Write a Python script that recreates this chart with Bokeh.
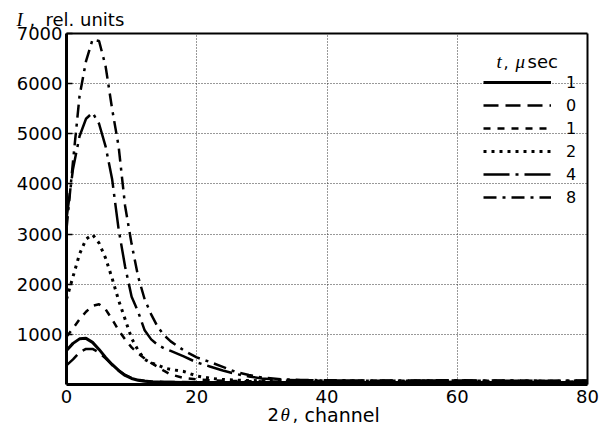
from bokeh.plotting import figure
from bokeh.models import Range1d, FixedTicker, Legend, LegendItem, Label, LinearAxis
from bokeh.embed import file_html
from bokeh.resources import INLINE

channel = [0, 1, 2, 3, 4, 5, 6, 7, 8, 9, 10, 11, 12, 13, 14, 15, 16, 18, 20, 22,
           24, 26, 28, 30, 33, 36, 40, 45, 50, 55, 60, 65, 70, 75, 80]

# series (legend order): t = 1 (solid), 0, 1, 2, 4, 8 microseconds
I_solid1 = [680, 820, 910, 920, 840, 700, 540, 400, 280, 180, 120, 85, 65, 55, 50, 45, 45, 42, 40, 40,
            38, 40, 38, 40, 38, 40, 45, 40, 40, 42, 45, 40, 40, 38, 40]
I_t0 = [380, 500, 640, 710, 710, 640, 520, 390, 280, 190, 130, 95, 75, 62, 55, 52, 50, 48, 45, 45,
        42, 45, 42, 45, 42, 45, 50, 45, 45, 48, 50, 45, 45, 42, 45]
I_t1 = [950, 1120, 1300, 1450, 1570, 1600, 1500, 1300, 1080, 900, 740, 620, 520, 430, 350, 270, 200, 130, 100, 85,
        75, 70, 65, 62, 58, 60, 65, 58, 60, 62, 65, 58, 60, 55, 60]
I_t2 = [1700, 2150, 2600, 2900, 2990, 2820, 2520, 2120, 1680, 1300, 920, 680, 500, 430, 390, 330, 300, 260, 170, 125,
        100, 88, 80, 75, 70, 70, 72, 68, 70, 70, 75, 68, 70, 65, 70]
I_t4 = [3300, 4300, 4950, 5300, 5420, 5200, 4750, 4100, 3100, 2350, 1750, 1450, 1080, 900, 790, 720, 670, 560, 440, 360,
        280, 210, 160, 120, 95, 85, 80, 78, 75, 78, 80, 75, 75, 72, 75]
I_t8 = [3100, 4450, 5750, 6450, 6880, 6850, 6350, 5500, 4750, 3560, 2800, 2150, 1700, 1400, 1150, 980, 860, 680, 540, 450,
        350, 250, 190, 140, 105, 90, 85, 80, 80, 82, 85, 80, 78, 75, 80]

legend_labels = ["1", "0", "1", "2", "4", "8"]
x_ticks = [0, 20, 40, 60, 80]
y_ticks = [1000, 2000, 3000, 4000, 5000, 6000, 7000]
X_MIN, X_MAX = 0, 80
Y_MIN, Y_MAX = 0, 7000

SANS = "DejaVu Sans"
SERIF = "Liberation Serif"

W, H = 605, 427
# plot box in pixels: left 66, right 587, top 33, bottom 384
L, R, T, B = 66, 587, 33, 384
sx = (R - L) / (X_MAX - X_MIN)
sy = (B - T) / (Y_MAX - Y_MIN)

p = figure(width=W, height=H, output_backend="svg", toolbar_location=None,
           x_range=Range1d(X_MIN - L / sx, X_MAX + (W - R) / sx),
           y_range=Range1d(Y_MIN - (H - B) / sy, Y_MAX + T / sy),
           min_border=0, x_axis_location="below", y_axis_location="left")
p.background_fill_color = "white"
p.border_fill_color = "white"
p.outline_line_color = None

for ax, ticks in ((p.xaxis, x_ticks), (p.yaxis, y_ticks)):
    ax.ticker = FixedTicker(ticks=ticks)
    ax.axis_line_width = 3
    ax.axis_line_color = "black"
    ax.major_tick_in = 6
    ax.major_tick_out = 0
    ax.major_tick_line_width = 1.5
    ax.minor_tick_line_color = None
    ax.major_label_text_font = SANS
    ax.major_label_text_font_size = "18px"
    ax.major_label_text_color = "black"
p.xaxis.fixed_location = Y_MIN
p.yaxis.fixed_location = X_MIN
p.xaxis.bounds = (X_MIN, X_MAX)
p.yaxis.bounds = (Y_MIN, Y_MAX)
p.xaxis.major_tick_line_color = None
p.yaxis.major_label_standoff = 4
p.xaxis.major_label_standoff = 5

# top and right frame lines as bare axes (no ticks, no labels)
top_ax = LinearAxis(fixed_location=Y_MAX, bounds=(X_MIN, X_MAX), ticker=FixedTicker(ticks=[]),
                    major_tick_line_color=None, minor_tick_line_color=None,
                    axis_line_width=2, axis_line_color="black")
right_ax = LinearAxis(fixed_location=X_MAX, bounds=(Y_MIN, Y_MAX), ticker=FixedTicker(ticks=[]),
                      major_tick_line_color=None, minor_tick_line_color=None,
                      axis_line_width=2, axis_line_color="black")
p.add_layout(top_ax, "above")
p.add_layout(right_ax, "right")

p.xgrid.ticker = FixedTicker(ticks=x_ticks)
p.ygrid.ticker = FixedTicker(ticks=y_ticks)
p.xgrid.bounds = (X_MIN, X_MAX)
p.ygrid.bounds = (Y_MIN, Y_MAX)
p.xgrid.cross_bounds = (Y_MIN, Y_MAX)
p.ygrid.cross_bounds = (X_MIN, X_MAX)
for g in (p.xgrid, p.ygrid):
    g.grid_line_color = "#333333"
    g.grid_line_dash = "1 2"
    g.grid_line_width = 1

styles = [
    (I_solid1, "solid", 3),
    (I_t0, "15 7", 2.5),
    (I_t1, "7 7", 2.5),
    (I_t2, "3 5", 3),
    (I_t4, "26 6 3 6", 2.5),
    (I_t8, "13 6 3 6", 2.5),
]
renderers = []
for ys, dash, w in styles:
    r = p.line(channel, ys, line_color="black", line_width=w, line_dash=dash)
    renderers.append(r)

items = [LegendItem(label=lab, renderers=[r]) for lab, r in zip(legend_labels, renderers)]
legend = Legend(items=items, location=(483, H - 207), orientation="vertical",
                glyph_width=68, glyph_height=20, label_height=20, spacing=3,
                label_standoff=15, padding=0, margin=0,
                border_line_color=None, background_fill_alpha=0,
                label_text_font=SANS, label_text_font_size="16px", label_text_color="black")
p.add_layout(legend, "center")


def dx(px):
    return X_MIN + (px - L) / sx


def dy(py):
    return Y_MIN + (B - py) / sy


def lab(px, py, text, font=SANS, style="normal", size="18px"):
    p.add_layout(Label(x=dx(px), y=dy(py), text=text, text_font=font,
                       text_font_style=style, text_font_size=size, text_color="black",
                       text_baseline="alphabetic", text_align="left"))


# y axis title: "I, rel. units"
lab(16, 19, "I", SERIF, "italic", "19px")
lab(29, 19, ",", SANS, "normal", "18px")
lab(45, 19, "rel. units", SANS, "normal", "18px")
# x axis title: "2θ, channel"
lab(267, 414, "2", SANS, "normal", "18px")
lab(280, 414, "θ", SERIF, "italic", "19px")
lab(292, 414, ",", SANS, "normal", "18px")
lab(304, 414, "channel", SANS, "normal", "19px")
# legend title: "t, μsec"
lab(496, 61, "t", SERIF, "italic", "19px")
lab(503, 61, ",", SANS, "normal", "16px")
lab(515, 61, "μ", SERIF, "italic", "19px")
lab(527, 61, "sec", SANS, "normal", "18px")

open("out.html", "w").write(file_html(p, INLINE))
